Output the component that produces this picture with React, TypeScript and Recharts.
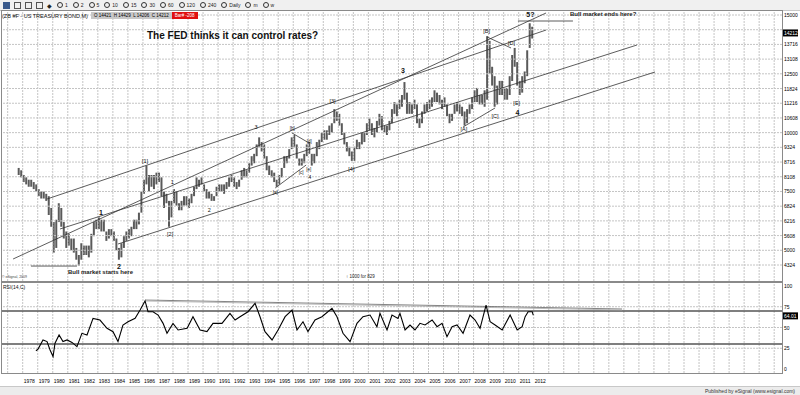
import React from 'react';
import {
  ComposedChart, Bar, XAxis, YAxis, ReferenceLine, ReferenceDot,
  LineChart, Line,
} from 'recharts';

// monthly ZB continuation, sampled as two-month bars starting Sep 1977
const firstBarMonth = 1977 + 8 / 12;

const barHigh = [
  85, 84,
  82, 81, 80, 80, 79, 78, // 1978
  76, 75, 75, 74, 73, 68,
  62, 63, 70, 68, 62, 58, // 1980
  57, 55, 55, 51, 48, 53,
  52, 52, 52, 57, 62, 63,
  64, 63, 63, 58, 59, 59,
  58, 55, 51, 53, 56, 58,
  59, 60, 63, 63, 66, 75, // 1985
  80, 86, 82, 82, 82, 83,
  83, 81, 75, 74, 71, 71,
  76, 75, 70, 71, 73, 73,
  72, 74, 77, 81, 80, 81,
  78, 76, 75, 74, 73, 77, // 1990
  78, 78, 78, 79, 81, 82,
  81, 79, 80, 84, 85, 84,
  87, 90, 91, 95, 98, 96,
  95, 90, 86, 84, 83, 80,
  82, 85, 90, 90, 93, 98, // 1995
  99, 95, 89, 89, 91, 95,
  96, 91, 91, 96, 97, 100,
  101, 101, 103, 104, 110, 109,
  108, 104, 100, 96, 94, 92,
  94, 97, 96, 100, 100, 104, // 2000
  106, 104, 102, 105, 108, 107,
  103, 103, 105, 110, 113, 112,
  114, 116, 121.5, 117, 113, 112,
  114, 112, 106, 109, 112, 113,
  114, 115, 118, 117, 116, 114, // 2005
  115, 112, 108, 108, 112, 113,
  112, 111, 109, 110, 112, 115,
  118, 119, 116, 116, 118, 141,
  139, 128, 124, 120, 122, 122,
  119, 119, 124, 133, 136, 130, // 2010
  122, 124, 126, 135, 146.5, 145,
];

const barLow = [
  82, 81,
  79, 78, 77, 77, 76, 75, // 1978
  73, 72, 72, 71, 65, 60,
  49, 51, 62, 60, 55, 51, // 1980
  52, 50, 49, 46, 43.5, 46,
  48, 48, 47, 49, 56, 59,
  59, 58, 58, 54, 55, 56,
  54, 50, 46, 47, 51, 54,
  55, 56, 59, 59, 61, 66, // 1985
  74, 78, 75, 77, 76, 78,
  79, 73, 68, 70, 60, 64,
  70, 69, 67, 67, 69, 69,
  68, 70, 73, 76, 77, 78,
  75, 72, 72, 71, 71, 73, // 1990
  75, 75, 74, 76, 77, 79,
  77, 76, 77, 80, 81, 81,
  83, 86, 87, 90, 94, 92,
  89, 84, 82, 81, 79, 77,
  78, 81, 85, 87, 89, 93, // 1995
  94, 89, 86, 86, 87, 90,
  91, 86, 87, 90, 93, 96,
  97, 97, 99, 100, 104, 105,
  103, 99, 95, 92, 90, 88,
  88, 93, 93, 95, 96, 99, // 2000
  101, 99, 98, 100, 103, 101,
  100, 99, 101, 104, 108, 107,
  110, 111, 114, 108, 108, 108,
  110, 104, 102, 104, 108, 109,
  110, 111, 113, 113, 112, 110, // 2005
  111, 107, 104, 105, 108, 109,
  108, 107, 103, 104, 108, 110,
  113, 113, 112, 112, 111, 114,
  125, 120, 111, 112, 116, 116,
  114, 114, 116, 122, 128, 120, // 2010
  116, 117, 121, 124, 136, 140,
];

const rsiDates = [
  1978.88, 1979.02, 1979.35, 1979.62, 1979.82, 1980.02, 1980.15, 1980.42, 1980.68, 1980.95,
  1981.28, 1981.61, 1981.94, 1982.28, 1982.68, 1983.14, 1983.61, 1984.01, 1984.34, 1984.67,
  1985.01, 1985.48, 1985.81, 1986.14, 1986.34, 1986.67, 1987.01, 1987.34, 1987.6, 1988.0,
  1988.34, 1988.94, 1989.33, 1989.8, 1990.26, 1990.66, 1991.26, 1991.79, 1992.13, 1992.46,
  1992.99, 1993.46, 1993.79, 1994.12, 1994.59, 1994.99, 1995.46, 1995.92, 1996.25, 1996.65,
  1996.98, 1997.45, 1997.91, 1998.58, 1998.91, 1999.31, 1999.78, 2000.24, 2000.64, 2001.11,
  2001.57, 2001.77, 2002.24, 2002.57, 2002.97, 2003.1, 2003.44, 2003.77, 2004.1, 2004.43,
  2004.77, 2005.24, 2005.57, 2005.9, 2006.23, 2006.57, 2006.9, 2007.3, 2007.76, 2008.1,
  2008.43, 2008.83, 2009.1, 2009.43, 2009.9, 2010.43, 2010.9, 2011.23, 2011.43, 2011.63,
  2011.9, 2011.97,
];

const rsiValues = [
  22, 24, 35, 33, 23, 15, 31, 41, 33, 35,
  32, 27, 43, 41, 61, 59, 49, 45, 33, 53,
  57, 61, 71, 82, 69, 69, 65, 55, 43, 55,
  47, 49, 63, 47, 45, 55, 55, 67, 59, 63,
  69, 79, 63, 45, 35, 47, 63, 71, 47, 57,
  45, 59, 63, 73, 63, 43, 33, 55, 63, 65,
  51, 67, 47, 65, 61, 67, 47, 53, 47, 55,
  53, 59, 51, 55, 39, 51, 53, 43, 65, 59,
  49, 77, 57, 53, 47, 65, 47, 51, 63, 69,
  69, 65,
];

const priceTicks = [43.75, 50, 56.25, 62.5, 68.75, 75, 81.25, 87.5, 93.75, 100,
  106.25, 112.5, 118.75, 125, 131.25, 137.5, 143.75, 150];
const rsiTicks = [0, 25, 50, 75, 100];
const yearLabels = [1978, 1979, 1980, 1981, 1982, 1983, 1984, 1985, 1986, 1987, 1988,
  1989, 1990, 1991, 1992, 1993, 1994, 1995, 1996, 1997, 1998, 1999, 2000, 2001, 2002,
  2003, 2004, 2005, 2006, 2007, 2008, 2009, 2010, 2011, 2012];

const lastPrice = 142.375;
const lastRsi = 64.01;

// wave count annotations [year, price, text, size, bold]
const waveLabels: [number, number, string, number, boolean][] = [
  [1983.21, 65.9, '1', 7, true],
  [1984.41, 43.3, '2', 7, true],
  [1986.14, 88.0, '[1]', 5.5, false],
  [1987.81, 56.9, '[2]', 5.5, false],
  [1987.95, 79.0, '1', 5.5, false],
  [1990.41, 67.1, '2', 5.5, false],
  [1993.53, 102.4, '3', 5.5, false],
  [1994.8, 74.8, '[a]', 4.5, false],
  [1995.93, 102.0, '[b]', 4.5, false],
  [1996.53, 83.3, '[c]', 4.5, false],
  [1997.06, 96.4, '[d]', 4.5, false],
  [1997.03, 84.5, '[e]', 4.5, false],
  [1997.1, 81.2, '4', 5, false],
  [1998.61, 113.4, '[3]', 5.5, false],
  [1999.87, 84.4, '[4]', 5.5, false],
  [2003.3, 126.2, '3', 7, true],
  [2007.36, 101.5, '[A]', 5.5, false],
  [2008.87, 143.3, '[B]', 5.5, false],
  [2009.42, 107.1, '[C]', 5.5, false],
  [2010.53, 138.2, '[D]', 5.5, false],
  [2010.87, 112.5, '[E]', 5.5, false],
  [2010.91, 108.5, '4', 7, true],
  [2011.78, 150.0, '5?', 7, true],
];

// hand drawn trend lines [year1, price1, year2, price2]
const trendLines: [number, number, number, number][] = [
  [1977.36, 46.3, 2012.82, 150.85],
  [1979.62, 71.8, 2012.82, 143.6],
  [1980.48, 59.05, 2018.87, 137.25],
  [1984.34, 52.68, 2020.07, 125.78],
  [1994.8, 76.48, 1996.86, 86.25],
  [1995.92, 99.85, 1997.05, 95.6],
  [2007.3, 102.4, 2009.43, 110.5],
  [2008.9, 140.65, 2010.49, 135.98],
  [1978.55, 43.3, 1981.61, 43.3],
  [2010.95, 147.45, 2014.61, 147.45],
];
const rsiTrend = [1986.14, 83.1, 2017.88, 72.3];

const xDomain = [1976.556, 2028.52];
const priceDomain = [36.95, 152.125];
const rsiDomain = [-4.8, 104.8];
const gridYears = Array.from({ length: 52 }, (_, i) => 1977 + i);

const bars = barHigh.map((h, i) => ({
  t: firstBarMonth + (2 * i + 1) / 12,
  hl: [barLow[i], h],
}));
const rsiData = rsiDates.map((t, i) => ({ t, rsi: rsiValues[i] }));

const FONT = 'Arial, "Liberation Sans", sans-serif';

function fmt32(v: number) {
  const whole = Math.floor(v);
  return `${whole}${String(Math.round((v - whole) * 32)).padStart(2, '0')}`;
}

// the 14324 label sits under the last-price box, so it is not drawn
function PriceTick({ x, y, payload }: any) {
  if (Math.abs(payload.value - lastPrice) < 2) return null;
  return (
    <text x={x - 6} y={y + 2} fontSize={5} fill="#000" fontFamily={FONT}>{fmt32(payload.value)}</text>
  );
}

function RsiTick({ x, y, payload }: any) {
  return (
    <text x={x - 6} y={y + 2} fontSize={5} fill="#000" fontFamily={FONT}>{payload.value}</text>
  );
}

function YearTick({ x, y, payload }: any) {
  return (
    <text x={x + 1} y={y + 2} fontSize={5} fill="#000" fontFamily={FONT}>{payload.value}</text>
  );
}

function WaveText({ cx, cy, text, size, bold }: any) {
  return (
    <text x={cx} y={cy + size * 0.35} textAnchor="middle" fontSize={size}
      fontWeight={bold ? 'bold' : 'normal'} fill="#111" fontFamily={FONT}>{text}</text>
  );
}

function ValueBox({ cx, cy, text }: any) {
  return (
    <g>
      <rect x={cx + 1} y={cy - 3.5} width={15} height={7} fill="#000" />
      <text x={cx + 2} y={cy + 2} fontSize={5} fill="#fff" fontFamily={FONT}>{text}</text>
    </g>
  );
}

const toolItems = ['1', '2', '5', '10', '15', '30', '60', '120', '240', 'Daily', 'm', 'w'];

export default function App() {
  return (
    <div style={{ position: 'absolute', left: 0, top: 0, width: 800, height: 395, background: '#fff', fontFamily: FONT, overflow: 'hidden' }}>
      {/* toolbar */}
      <div style={{ position: 'absolute', left: 0, top: 0, width: 800, height: 10, background: '#f0f0f0', borderBottom: '1px solid #c8c8c8', display: 'flex', alignItems: 'center', fontSize: 5, color: '#222' }}>
        {['#3a5a8c', '#555', '#555', '#555'].map((c, i) => (
          <span key={i} style={{ display: 'inline-block', width: 5, height: 5, background: i === 0 ? c : 'transparent', border: `1px solid ${c}`, marginLeft: i === 0 ? 3 : 4 }} />
        ))}
        <span style={{ marginLeft: 4, fontSize: 6 }}>◆</span>
        {toolItems.map((t) => (
          <span key={t} style={{ display: 'inline-flex', alignItems: 'center', marginLeft: 5 }}>
            <span style={{ display: 'inline-block', width: 4, height: 4, borderRadius: 3, border: '1px solid #333', marginRight: 2 }} />
            {t}
          </span>
        ))}
      </div>

      {/* price panel */}
      <div style={{ position: 'absolute', left: 0, top: 10 }}>
        <ComposedChart width={800} height={271} data={bars} margin={{ top: 0, right: 0, bottom: 0, left: 1 }}>
          <XAxis type="number" dataKey="t" domain={xDomain} hide allowDataOverflow />
          <YAxis orientation="right" width={18} domain={priceDomain} ticks={priceTicks} tick={<PriceTick />}
            axisLine={false} tickLine={false} allowDataOverflow interval={0} />
          {priceTicks.map((v) => (
            <ReferenceLine key={'h' + v} y={v} stroke="#c4c4c4" strokeDasharray="2 1" />
          ))}
          {gridYears.map((yr) => (
            <ReferenceLine key={'v' + yr} x={yr} stroke="#c4c4c4" strokeDasharray="2 1" />
          ))}
          <Bar dataKey="hl" barSize={2} fill="#5a5a5a" isAnimationActive={false} />
          {trendLines.map(([x1, y1, x2, y2], i) => (
            <ReferenceLine key={'l' + i} segment={[{ x: x1, y: y1 }, { x: x2, y: y2 }]}
              stroke="#333" strokeWidth={0.8} ifOverflow="visible" />
          ))}
          {waveLabels.map(([t, p, text, size, bold], i) => (
            <ReferenceDot key={'w' + i} x={t} y={p} r={0} ifOverflow="visible"
              shape={(props: any) => <WaveText {...props} text={text} size={size} bold={bold} />} />
          ))}
          <ReferenceDot x={xDomain[1]} y={lastPrice} r={0} ifOverflow="visible"
            shape={(props: any) => <ValueBox {...props} text={fmt32(lastPrice)} />} />
        </ComposedChart>
      </div>

      {/* rsi panel */}
      <div style={{ position: 'absolute', left: 0, top: 282 }}>
        <LineChart width={800} height={105} data={rsiData} margin={{ top: 0, right: 0, bottom: 0, left: 1 }}>
          <XAxis type="number" dataKey="t" domain={xDomain} ticks={yearLabels} tick={<YearTick />}
            axisLine={false} tickLine={false} height={14} allowDataOverflow interval={0} />
          <YAxis orientation="right" width={18} domain={rsiDomain} ticks={rsiTicks} tick={<RsiTick />}
            axisLine={false} tickLine={false} allowDataOverflow interval={0} />
          {[25, 50, 75].map((v) => (
            <ReferenceLine key={'h' + v} y={v} stroke="#c4c4c4" strokeDasharray="2 1" />
          ))}
          {gridYears.map((yr) => (
            <ReferenceLine key={'v' + yr} x={yr} stroke="#c4c4c4" strokeDasharray="2 1" />
          ))}
          <ReferenceLine y={70} stroke="#555" strokeWidth={1.5} />
          <ReferenceLine y={30} stroke="#555" strokeWidth={1.5} />
          <ReferenceLine segment={[{ x: rsiTrend[0], y: rsiTrend[1] }, { x: rsiTrend[2], y: rsiTrend[3] }]}
            stroke="#666" strokeWidth={0.8} ifOverflow="visible" />
          <ReferenceLine segment={[{ x: rsiTrend[0], y: rsiTrend[1] - 1.2 }, { x: rsiTrend[2], y: rsiTrend[3] - 1.2 }]}
            stroke="#aaa" strokeWidth={0.8} ifOverflow="visible" />
          <Line dataKey="rsi" stroke="#000" strokeWidth={1.1} dot={false} isAnimationActive={false} type="linear" />
          <ReferenceDot x={xDomain[1]} y={lastRsi} r={0} ifOverflow="visible"
            shape={(props: any) => <ValueBox {...props} text={lastRsi.toFixed(2)} />} />
        </LineChart>
      </div>

      {/* panel frames */}
      <div style={{ position: 'absolute', left: 1, top: 10, width: 780, height: 270, border: '1px solid #8a8a8a', pointerEvents: 'none' }} />
      <div style={{ position: 'absolute', left: 1, top: 282, width: 780, height: 90, border: '1px solid #8a8a8a', pointerEvents: 'none' }} />

      {/* header */}
      <div style={{ position: 'absolute', left: 2, top: 12, height: 7, display: 'flex', alignItems: 'center', fontSize: 5.5, whiteSpace: 'nowrap' }}>
        <span style={{ color: '#111' }}>(ZB #F - US TREASURY BOND,M)</span>
        <span style={{ marginLeft: 3, background: '#c8c8c8', padding: '0 3px', fontSize: 4.5, lineHeight: '7px' }}>
          O 14421&nbsp;&nbsp;H 14429&nbsp;&nbsp;L 14206&nbsp;&nbsp;C 14212
        </span>
        <span style={{ background: '#e01010', color: '#fff', padding: '0 3px', fontSize: 4.5, lineHeight: '7px' }}>Bar# -208</span>
      </div>

      <div style={{ position: 'absolute', left: 147, top: 30, fontSize: 10, fontWeight: 'bold', color: '#111', whiteSpace: 'nowrap' }}>
        The FED thinks it can control rates?
      </div>
      <div style={{ position: 'absolute', left: 68, top: 269, fontSize: 6, fontWeight: 'bold', color: '#222', whiteSpace: 'nowrap' }}>
        Bull market starts here
      </div>
      <div style={{ position: 'absolute', left: 570, top: 11, fontSize: 6, fontWeight: 'bold', color: '#222', whiteSpace: 'nowrap' }}>
        Bull market ends here?
      </div>
      <div style={{ position: 'absolute', left: 346, top: 274, fontSize: 4.5, color: '#222', whiteSpace: 'nowrap' }}>
        ↑ 1000 for 829
      </div>
      <div style={{ position: 'absolute', left: 2, top: 275, fontSize: 3.5, color: '#444', whiteSpace: 'nowrap' }}>
        © eSignal, 2009
      </div>
      <div style={{ position: 'absolute', left: 3, top: 284, fontSize: 5, color: '#111', whiteSpace: 'nowrap' }}>
        RSI(14,C)
      </div>

      {/* footer */}
      <div style={{ position: 'absolute', left: 0, top: 386, width: 800, height: 9, background: '#ececec', borderTop: '1px solid #c8c8c8' }}>
        <span style={{ position: 'absolute', right: 5, top: 1, fontSize: 5, color: '#333' }}>Published by eSignal (www.esignal.com)</span>
      </div>
    </div>
  );
}
